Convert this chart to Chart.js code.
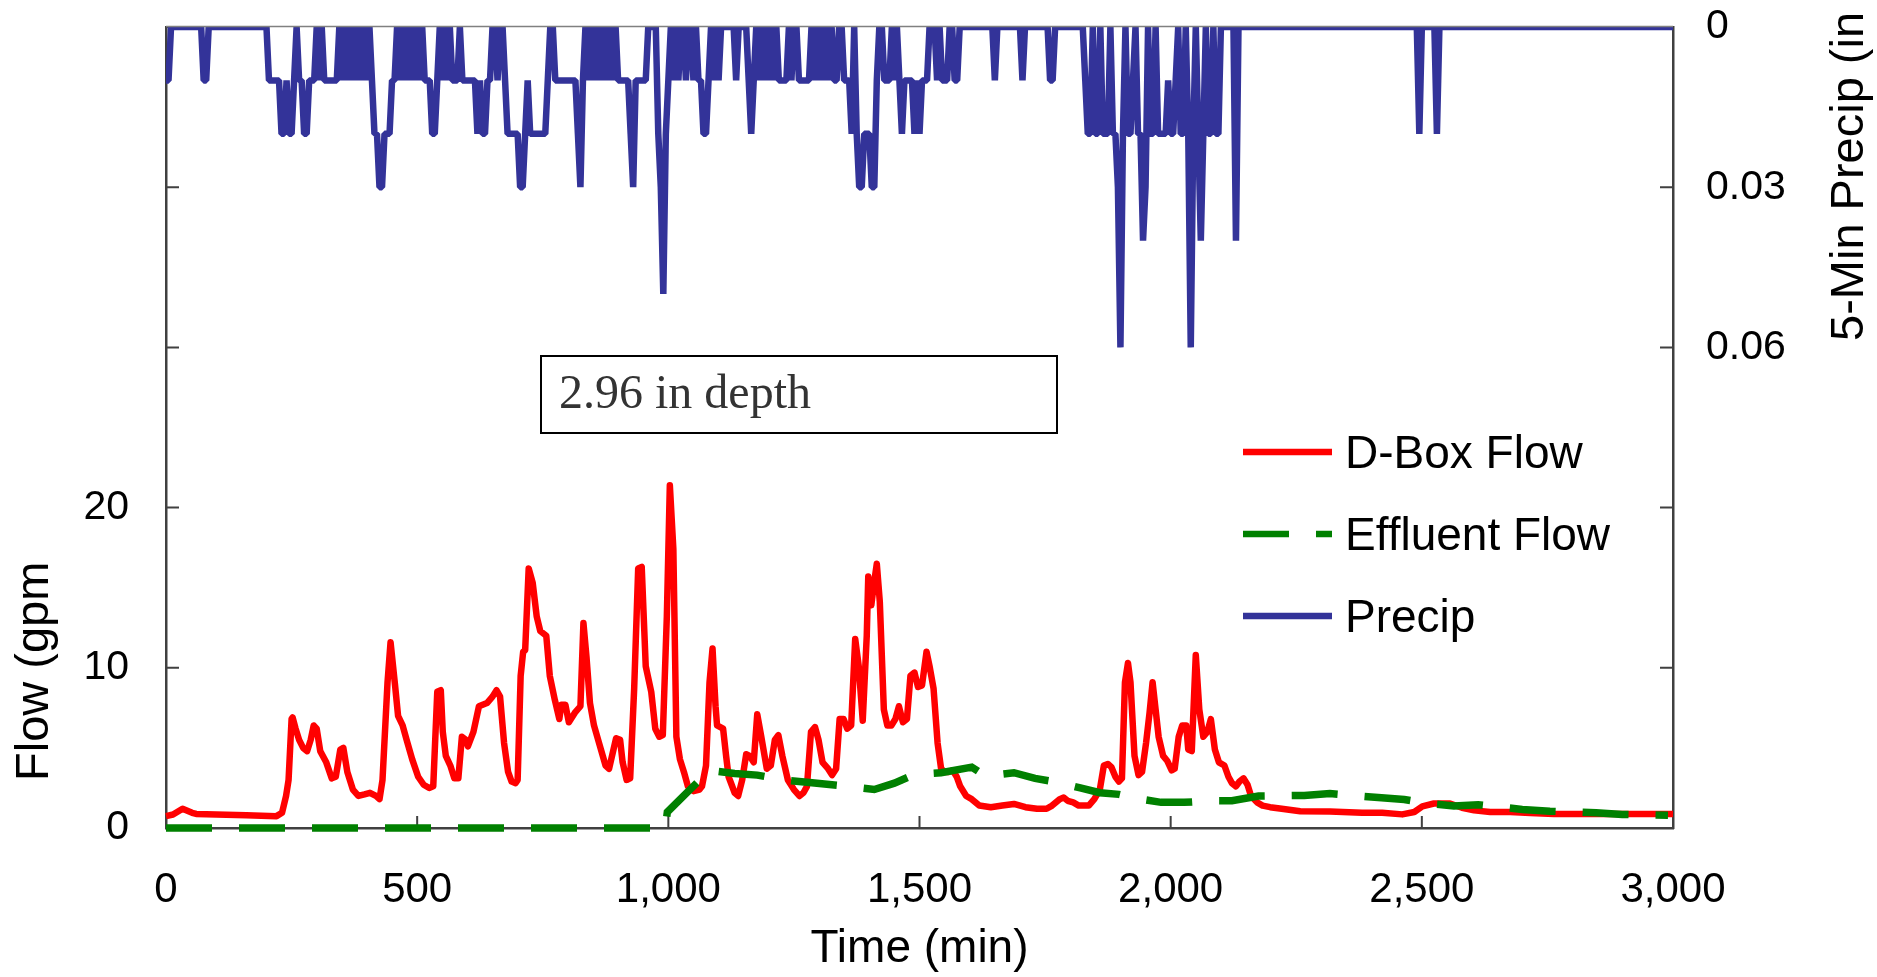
<!DOCTYPE html>
<html>
<head>
<meta charset="utf-8">
<title>D-Box Flow, Effluent Flow and 5-Min Precip</title>
<script src="https://cdn.jsdelivr.net/npm/chart.js@4.4.1/dist/chart.umd.min.js"></script>
<style>
  html, body { margin: 0; padding: 0; background: #fff; }
  #wrap { position: relative; width: 1877px; height: 977px; }
</style>
</head>
<body>
<div id="wrap"><canvas id="flowChart"></canvas></div>
<script>
// --- Data ---

// D-Box flow (gpm) against time (min)
const dboxTimes = [
  0, 14, 33, 52, 60, 100, 160, 220, 231, 239, 244, 250, 252, 258, 265, 273, 281, 288, 294, 300,
  307, 319, 330, 338, 347, 353, 361, 372, 383, 395, 406, 418, 425, 431, 441, 447, 456, 462, 471, 479,
  490, 502, 513, 524, 532, 540, 547, 551, 557, 566, 574, 582, 589, 597, 601, 612, 623, 639, 650, 658,
  665, 673, 681, 688, 696, 700, 706, 711, 715, 722, 730, 738, 745, 757, 764, 774, 783, 787, 795, 802,
  814, 825, 831, 837, 844, 852, 863, 875, 882, 896, 904, 909, 917, 924, 932, 940, 947, 955, 966, 974,
  982, 989, 997, 1003, 1010, 1016, 1023, 1031, 1039, 1050, 1062, 1067, 1075, 1082, 1088, 1094, 1097, 1109, 1115, 1120,
  1132, 1139, 1147, 1155, 1162, 1170, 1177, 1185, 1196, 1204, 1212, 1219, 1227, 1238, 1250, 1261, 1269, 1276, 1284, 1292,
  1299, 1307, 1318, 1326, 1334, 1341, 1349, 1356, 1364, 1372, 1379, 1387, 1395, 1398, 1404, 1410, 1415, 1421, 1429, 1436,
  1444, 1452, 1459, 1467, 1475, 1482, 1490, 1497, 1505, 1514, 1520, 1528, 1536, 1543, 1551, 1558, 1566, 1574, 1581, 1593,
  1604, 1619, 1642, 1665, 1688, 1711, 1734, 1753, 1764, 1779, 1787, 1795, 1806, 1817, 1837, 1848, 1859, 1867, 1875, 1882,
  1890, 1897, 1903, 1909, 1915, 1920, 1928, 1936, 1943, 1951, 1958, 1964, 1970, 1976, 1985, 1993, 2002, 2008, 2016, 2023,
  2031, 2035, 2042, 2050, 2057, 2065, 2073, 2080, 2088, 2096, 2107, 2115, 2122, 2130, 2137, 2145, 2153, 2160, 2172, 2183,
  2198, 2221, 2258, 2317, 2381, 2421, 2461, 2485, 2501, 2524, 2556, 2580, 2604, 2636, 2676, 2716, 2763, 2811, 2875, 2955,
  3000, 3015
];
const dboxFlow = [
  0.74, 0.84, 1.2, 0.95, 0.88, 0.85, 0.8, 0.74, 0.95, 2.0, 3.0, 6.8, 6.9, 6.2, 5.5, 5.0, 4.8, 5.5, 6.4, 6.2,
  4.8, 4.1, 3.1, 3.2, 4.9, 5.0, 3.5, 2.4, 2.0, 2.1, 2.2, 2.0, 1.8, 3.0, 9.1, 11.6, 8.9, 7.0, 6.4, 5.5,
  4.3, 3.2, 2.7, 2.5, 2.6, 8.5, 8.6, 6.0, 4.5, 3.9, 3.1, 3.1, 5.7, 5.5, 5.1, 6.0, 7.6, 7.8, 8.2, 8.6,
  8.2, 5.3, 3.5, 2.9, 2.8, 3.0, 9.5, 11.0, 11.1, 16.2, 15.3, 13.2, 12.3, 12.0, 9.5, 8.0, 6.8, 7.7, 7.7, 6.6,
  7.2, 7.6, 12.8, 10.7, 7.8, 6.4, 5.2, 3.9, 3.7, 5.6, 5.5, 4.1, 3.0, 3.1, 8.7, 16.2, 16.3, 10.1, 8.5, 6.2,
  5.7, 5.8, 13.2, 21.4, 17.4, 5.7, 4.3, 3.5, 2.6, 2.3, 2.4, 2.6, 3.9, 9.1, 11.2, 7.6, 6.4, 6.2, 4.5, 3.2,
  2.2, 2.0, 3.0, 4.6, 4.5, 4.1, 7.1, 5.7, 3.7, 3.9, 5.5, 5.8, 4.5, 3.0, 2.4, 2.0, 2.2, 2.6, 6.0, 6.3,
  5.5, 4.1, 3.7, 3.3, 3.7, 6.8, 6.8, 6.2, 6.4, 11.8, 10.1, 6.7, 12.0, 15.7, 13.9, 15.4, 16.5, 14.1, 7.4, 6.4,
  6.4, 6.8, 7.6, 6.6, 6.8, 9.5, 9.7, 8.8, 8.9, 11.0, 10.1, 8.7, 5.3, 3.7, 3.5, 3.5, 3.6, 3.2, 2.6, 2.0,
  1.8, 1.4, 1.3, 1.4, 1.5, 1.3, 1.2, 1.2, 1.4, 1.8, 1.9, 1.7, 1.6, 1.4, 1.4, 1.8, 2.4, 3.9, 4.0, 3.8,
  3.2, 2.9, 3.1, 9.1, 10.3, 9.1, 4.5, 3.3, 3.5, 5.3, 7.2, 9.1, 7.4, 5.7, 4.5, 4.2, 3.6, 3.7, 5.7, 6.4,
  6.4, 4.9, 4.8, 10.8, 7.4, 5.7, 6.0, 6.8, 4.9, 4.1, 3.9, 3.2, 2.8, 2.6, 2.9, 3.1, 2.7, 2.0, 1.6, 1.4,
  1.3, 1.2, 1.05, 1.03, 0.95, 0.95, 0.85, 1.0, 1.35, 1.53, 1.53, 1.26, 1.1, 1.0, 1.0, 0.93, 0.87, 0.87, 0.87, 0.87,
  0.87, 0.87
];

// Effluent flow (gpm) against time (min)
const effluentTimes = [
  0, 994, 998, 1040, 1082, 1132, 1177, 1231, 1276, 1356, 1410, 1450, 1490, 1543, 1604, 1631, 1688, 1730, 1775, 1820,
  1859, 1897, 1940, 1981, 2027, 2080, 2122, 2175, 2266, 2317, 2413, 2465, 2508, 2564, 2612, 2700, 2755, 2847, 2899, 2990
];
const effluentFlow = [
  0, 0, 1.0, 2.3, 3.6, 3.4, 3.3, 3.0, 2.85, 2.6, 2.4, 2.8, 3.35, 3.45, 3.8, 3.25, 3.45, 3.1, 2.85, 2.5,
  2.2, 2.1, 1.8, 1.6, 1.6, 1.7, 1.7, 2.0, 2.03, 2.15, 1.9, 1.78, 1.55, 1.38, 1.45, 1.16, 1.05, 0.95, 0.85, 0.8
];

// 5-min precip (in), one value per 5-minute step, 0 to 3000 min
const precipStepMin = 5;
const precipIn = [
  .01,.01,0,0,0,0,0,0,0,0,0,0,0,0,0,.01,.01,0,0,0,
  0,0,0,0,0,0,0,0,0,0,0,0,0,0,0,0,0,0,0,0,
  0,.01,.01,.01,.01,.01,.02,.02,.01,.02,.02,.01,0,.01,.01,.02,.02,.01,.01,.01,
  0,.01,0,.01,.01,.01,.01,.01,.01,0,.01,0,.01,0,.01,0,.01,0,.01,0,
  .01,0,.01,.02,.02,.03,.03,.02,.02,.02,.01,.01,0,.01,0,.01,0,.01,0,.01,
  0,.01,0,.01,.01,.01,.02,.02,.01,0,.01,0,.01,0,.01,.01,.01,0,.01,.01,
  .01,.01,.01,.01,.02,.01,.02,.02,.01,.01,0,0,.01,0,0,.01,.02,.02,.02,.02,
  .02,.03,.03,.02,.01,.02,.02,.02,.02,.02,.02,.02,.01,0,0,.01,.01,.01,.01,.01,
  .01,.01,.01,.01,.02,.03,.01,0,.01,0,.01,0,.01,0,.01,0,.01,0,.01,0,
  .01,.01,.01,.01,.01,.02,.03,.01,.01,.01,.01,.01,0,0,0,0,.02,.03,.05,.02,
  .01,0,.01,0,.01,0,0,.01,0,0,.01,0,.01,.01,.02,.02,.01,0,.01,0,
  .01,0,0,0,0,0,0,.01,0,0,0,0,.01,.02,.01,0,.01,0,.01,0,
  .01,0,.01,0,.01,.01,.01,.01,0,.01,0,0,.01,.01,.01,.01,.01,0,.01,0,
  .01,0,.01,0,.01,0,.01,.01,0,0,.01,.01,.01,.02,0,.02,.03,.03,.02,.02,
  .02,.03,.03,.01,0,0,.01,.01,.01,0,.01,0,.01,.02,.01,.01,.01,.01,.02,.01,
  .02,.01,.01,.01,0,0,0,.01,0,.01,.01,.01,0,0,.01,.01,0,0,0,0,
  0,0,0,0,0,0,0,0,0,0,.01,0,0,0,0,0,0,0,0,0,
  0,.01,0,0,0,0,0,0,0,0,0,0,.01,.01,0,0,0,0,0,0,
  0,0,0,0,0,0,.01,.02,.02,0,.02,.02,0,.02,.02,.02,0,.02,.02,.03,
  .06,.02,0,.02,.02,.01,0,.02,.02,.04,.03,0,.02,.02,0,.02,.02,.02,.02,.01,
  .02,.02,.01,0,.02,.02,0,.02,.06,.02,0,.02,.04,.02,0,.02,.02,0,.02,.02,
  0,0,0,0,0,0,.04,0,0,0,0,0,0,0,0,0,0,0,0,0,
  0,0,0,0,0,0,0,0,0,0,0,0,0,0,0,0,0,0,0,0,
  0,0,0,0,0,0,0,0,0,0,0,0,0,0,0,0,0,0,0,0,
  0,0,0,0,0,0,0,0,0,0,0,0,0,0,0,0,0,0,0,.02,
  0,0,0,0,0,0,.02,0,0,0,0,0,0,0,0,0,0,0,0,0,
  0,0,0,0,0,0,0,0,0,0,0,0,0,0,0,0,0,0,0,0,
  0,0,0,0,0,0,0,0,0,0,0,0,0,0,0,0,0,0,0,0,
  0,0,0,0,0,0,0,0,0,0,0,0,0,0,0,0,0,0,0,0,
  0,0,0,0,0,0,0,0,0,0,0,0,0,0,0,0,0,0,0,0,
  0
];

// Axis ticks and labels
const timeTicks = [0, 500, 1000, 1500, 2000, 2500, 3000];
const flowTicks = [0, 10, 20, 30, 40, 50];
const flowTickLabels = [0, 10, 20];
const precipTicks = [0, 0.03, 0.06, 0.09, 0.12, 0.15];
const precipTickLabels = [0, 0.03, 0.06];

const timeTitle = 'Time (min)';
const flowTitle = 'Flow (gpm';
const precipTitle = '5-Min Precip (in';
const depthNote = '2.96 in depth';

const FONT = "'Liberation Sans', Arial, Helvetica, sans-serif";
const AXIS_COLOR = '#404040';

// --- Build series ---
const dboxPoints = dboxTimes.map((t, i) => ({ x: t, y: dboxFlow[i] }));
const effluentPoints = effluentTimes.map((t, i) => ({ x: t, y: effluentFlow[i] }));
const precipPoints = precipIn.map((v, i) => ({ x: i * precipStepMin, y: v }));

// fixed plot frame: chart area 166..1673 x 27..828
function fixWidth(w) {
    return s => { s.width = w; s.paddingTop = 0; s.paddingBottom = 0; };
}

// --- Plugins ---

// inward tick marks + grey top frame line
const frameTicks = {
    id: 'frameTicks',
    beforeDatasetsDraw(chart) {
        const { ctx, chartArea: a, scales } = chart;
        ctx.save();
        ctx.strokeStyle = AXIS_COLOR;
        ctx.lineWidth = 2;
        ctx.beginPath();
        scales.x.ticks.forEach(t => {
            const px = scales.x.getPixelForValue(t.value);
            ctx.moveTo(px, a.bottom);
            ctx.lineTo(px, a.bottom - 12);
        });
        scales.y.ticks.forEach(t => {
            const py = scales.y.getPixelForValue(t.value);
            ctx.moveTo(a.left, py);
            ctx.lineTo(a.left + 13, py);
        });
        scales.y1.ticks.forEach(t => {
            const py = scales.y1.getPixelForValue(t.value);
            ctx.moveTo(a.right, py);
            ctx.lineTo(a.right - 13, py);
        });
        ctx.stroke();
        ctx.restore();
    },
    afterDatasetsDraw(chart) {
        const { ctx, chartArea: a } = chart;
        ctx.save();
        ctx.strokeStyle = '#808080';
        ctx.lineWidth = 1.5;
        ctx.beginPath();
        ctx.moveTo(a.left, a.top - 0.5);
        ctx.lineTo(a.right, a.top - 0.5);
        ctx.stroke();
        ctx.restore();
    }
};

// y titles (both read bottom-to-top), legend and depth note
const annotations = {
    id: 'annotations',
    afterDraw(chart) {
        const { ctx } = chart;
        ctx.save();
        ctx.fillStyle = '#000';
        ctx.textAlign = 'left';
        ctx.textBaseline = 'alphabetic';
        ctx.font = `47px ${FONT}`;

        ctx.save();
        ctx.translate(48, 781);
        ctx.rotate(-Math.PI / 2);
        ctx.fillText(flowTitle, 0, 0);
        ctx.restore();

        ctx.save();
        ctx.translate(1863, 341);
        ctx.rotate(-Math.PI / 2);
        ctx.fillText(precipTitle, 0, 0);
        ctx.restore();

        // legend
        const rows = [452, 534, 616];
        ctx.font = `46px ${FONT}`;
        chart.data.datasets.forEach((ds, i) => {
            const y = rows[i];
            ctx.save();
            ctx.strokeStyle = ds.borderColor;
            ctx.lineWidth = 6.5;
            ctx.setLineDash(ds.borderDash || []);
            ctx.beginPath();
            ctx.moveTo(1243, y);
            ctx.lineTo(1332, y);
            ctx.stroke();
            ctx.restore();
            ctx.fillText(ds.label, 1345, y + 16);
        });

        // depth note box
        ctx.strokeStyle = '#000';
        ctx.lineWidth = 2;
        ctx.strokeRect(541, 356, 516, 77);
        ctx.fillStyle = '#333';
        ctx.font = "48px 'Liberation Serif', 'Times New Roman', serif";
        ctx.fillText(depthNote, 559, 408);
        ctx.restore();
    }
};

// --- Chart ---
const ctx = document.getElementById('flowChart').getContext('2d');
const flowChart = new Chart(ctx, {
    type: 'line',
    data: {
        datasets: [
            {
                label: 'D-Box Flow',
                data: dboxPoints,
                yAxisID: 'y',
                borderColor: '#ff0000',
                borderWidth: 6.5,
                borderJoinStyle: 'round',
                pointRadius: 0,
                tension: 0,
                clip: false,
                order: 1
            },
            {
                label: 'Effluent Flow',
                data: effluentPoints,
                yAxisID: 'y',
                borderColor: '#008000',
                borderWidth: 7.5,
                borderDash: [46, 27],
                pointRadius: 0,
                tension: 0,
                clip: false,
                order: 0
            },
            {
                label: 'Precip',
                data: precipPoints,
                yAxisID: 'y1',
                borderColor: '#333399',
                borderWidth: 6.5,
                borderJoinStyle: 'bevel',
                pointRadius: 0,
                tension: 0,
                order: 2
            }
        ]
    },
    options: {
        responsive: true,
        maintainAspectRatio: false,
        animation: false,
        events: [],
        layout: { padding: { top: 27, left: 0, right: 0, bottom: 0 } },
        plugins: {
            legend: { display: false },
            tooltip: { enabled: false }
        },
        scales: {
            x: {
                type: 'linear',
                min: 0,
                max: 3000,
                afterBuildTicks: s => { s.ticks = timeTicks.map(v => ({ value: v })); },
                afterFit: s => { s.height = 149; s.paddingLeft = 0; s.paddingRight = 0; },
                grid: { display: false, drawTicks: false },
                border: { display: true, color: AXIS_COLOR, width: 2.5 },
                ticks: {
                    padding: 37,
                    color: '#000',
                    font: { family: FONT, size: 42 },
                    maxRotation: 0,
                    autoSkip: false,
                    callback: v => v.toLocaleString('en-US')
                },
                title: {
                    display: true,
                    text: timeTitle,
                    color: '#000',
                    font: { family: FONT, size: 46 },
                    padding: 0
                }
            },
            y: {
                type: 'linear',
                position: 'left',
                min: 0,
                max: 50,
                afterBuildTicks: s => { s.ticks = flowTicks.map(v => ({ value: v })); },
                afterFit: fixWidth(166),
                grid: { display: false, drawTicks: false },
                border: { display: true, color: AXIS_COLOR, width: 2.5 },
                ticks: {
                    padding: 37,
                    color: '#000',
                    font: { family: FONT, size: 41 },
                    autoSkip: false,
                    callback: v => flowTickLabels.includes(v) ? String(v) : ''
                }
            },
            y1: {
                type: 'linear',
                position: 'right',
                min: 0,
                max: 0.15,
                reverse: true,
                afterBuildTicks: s => { s.ticks = precipTicks.map(v => ({ value: v })); },
                afterFit: fixWidth(204),
                grid: { display: false, drawTicks: false },
                border: { display: true, color: AXIS_COLOR, width: 2.5 },
                ticks: {
                    padding: 33,
                    color: '#000',
                    font: { family: FONT, size: 41 },
                    autoSkip: false,
                    callback: v => precipTickLabels.includes(v) ? String(v) : ''
                }
            }
        }
    },
    plugins: [frameTicks, annotations]
});
</script>
</body>
</html>
